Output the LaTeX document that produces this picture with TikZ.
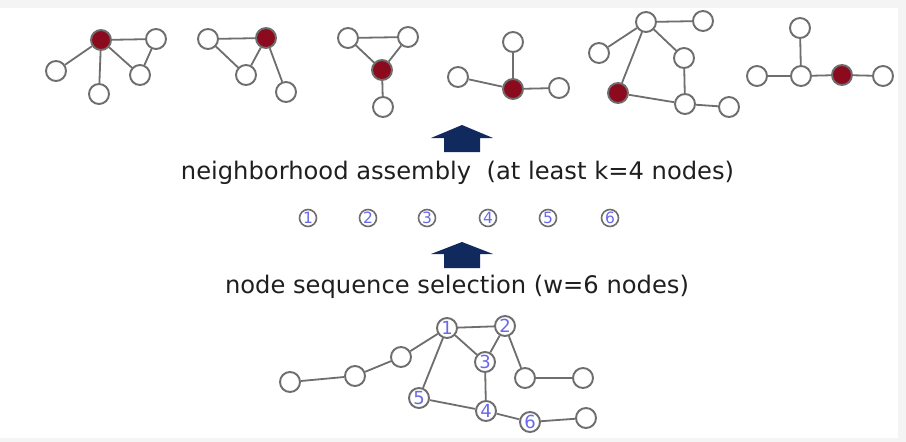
\documentclass[tikz,border=0pt]{standalone}
\usepackage{fontspec}
\setmainfont{DejaVu Sans}
\definecolor{nodered}{RGB}{140,10,30}
\definecolor{edgegray}{RGB}{110,110,110}
\definecolor{numblue}{RGB}{105,105,235}
\definecolor{arrownavy}{RGB}{16,42,94}
\definecolor{framegray}{RGB}{244,244,244}
\tikzset{
  vertex/.style={circle, draw=edgegray, fill=white, line width=1.9pt, minimum size=20pt, inner sep=0pt},
  hub/.style={vertex, fill=nodered},
  numv/.style={vertex, text=numblue, font=\fontsize{18}{18}\selectfont},
  seq/.style={circle, draw=edgegray, line width=1.6pt, minimum size=17pt, inner sep=0pt, text=numblue, font=\fontsize{15.5}{15.5}\selectfont},
  link/.style={draw=edgegray, line width=1.8pt},
  caption/.style={font=\fontsize{24.2}{28}\selectfont, text=black!88},
}
\begin{document}
\begin{tikzpicture}[x=1pt, y=-1pt]
                \useasboundingbox (0,0) rectangle (906,442);
                \fill[framegray] (0,0) rectangle (906,442);
                \fill[white] (0,8) rectangle (898,438);
                \node[hub] (g1c) at (101,40) {};
                \node[vertex] (g1r) at (156,39) {};
                \node[vertex] (g1l) at (56,71) {};
                \node[vertex] (g1b) at (99,94) {};
                \node[vertex] (g1m) at (140,75) {};
                \draw[link] (g1c) -- (g1r);
                \draw[link] (g1c) -- (g1l);
                \draw[link] (g1c) -- (g1b);
                \draw[link] (g1c) -- (g1m);
                \draw[link] (g1r) -- (g1m);
                \node[vertex] (g2l) at (208,39) {};
                \node[hub] (g2c) at (266,38) {};
                \node[vertex] (g2m) at (246,75) {};
                \node[vertex] (g2b) at (286,92) {};
                \draw[link] (g2l) -- (g2c);
                \draw[link] (g2l) -- (g2m);
                \draw[link] (g2c) -- (g2m);
                \draw[link] (g2c) -- (g2b);
                \node[vertex] (g3l) at (348,38) {};
                \node[vertex] (g3r) at (408,37) {};
                \node[hub] (g3c) at (382,70) {};
                \node[vertex] (g3b) at (383,107) {};
                \draw[link] (g3l) -- (g3r);
                \draw[link] (g3l) -- (g3c);
                \draw[link] (g3r) -- (g3c);
                \draw[link] (g3c) -- (g3b);
                \node[vertex] (g4t) at (513,42) {};
                \node[vertex] (g4l) at (458,77) {};
                \node[hub] (g4c) at (513,89) {};
                \node[vertex] (g4r) at (559,88) {};
                \draw[link] (g4t) -- (g4c);
                \draw[link] (g4l) -- (g4c);
                \draw[link] (g4c) -- (g4r);
                \node[vertex] (g5t) at (646,22) {};
                \node[vertex] (g5tr) at (703,21) {};
                \node[vertex] (g5l) at (599,53) {};
                \node[vertex] (g5m) at (684,58) {};
                \node[hub] (g5c) at (618,93) {};
                \node[vertex] (g5b) at (685,104) {};
                \node[vertex] (g5br) at (729,107) {};
                \draw[link] (g5t) -- (g5tr);
                \draw[link] (g5t) -- (g5l);
                \draw[link] (g5t) -- (g5c);
                \draw[link] (g5t) -- (g5m);
                \draw[link] (g5m) -- (g5b);
                \draw[link] (g5c) -- (g5b);
                \draw[link] (g5b) -- (g5br);
                \node[vertex] (g6t) at (800,28) {};
                \node[vertex] (g6m) at (801,76) {};
                \node[vertex] (g6l) at (757,76) {};
                \node[hub] (g6c) at (842,75) {};
                \node[vertex] (g6r) at (883,76) {};
                \draw[link] (g6t) -- (g6m);
                \draw[link] (g6l) -- (g6m);
                \draw[link] (g6m) -- (g6c);
                \draw[link] (g6c) -- (g6r);
                \fill[arrownavy] (462,125) -- (493,138) -- (480,138) -- (480,152) -- (444,152) -- (444,138) -- (431,138) -- cycle;
                \node[caption] (assembly) at (457.5,173) {neighborhood assembly\ \ (at least k=4 nodes)};
                \node[seq] (s1) at (308,218) {1};
                \node[seq] (s2) at (368,218) {2};
                \node[seq] (s3) at (427,218) {3};
                \node[seq] (s4) at (488,218) {4};
                \node[seq] (s5) at (548,218) {5};
                \node[seq] (s6) at (610,218) {6};
                \fill[arrownavy] (462,242) -- (493,254) -- (480,254) -- (480,268) -- (444,268) -- (444,254) -- (431,254) -- cycle;
                \node[caption] (selection) at (457,287) {node sequence selection (w=6 nodes)};
                \node[numv] (n1) at (447,328) {1};
                \node[numv] (n2) at (505,326) {2};
                \node[numv] (n3) at (485,362) {3};
                \node[numv] (n4) at (486,411) {4};
                \node[numv] (n5) at (419,398) {5};
                \node[numv] (n6) at (530,422) {6};
                \node[vertex] (pa) at (401,357) {};
                \node[vertex] (pb) at (355,376) {};
                \node[vertex] (pc) at (290,382) {};
                \node[vertex] (pd) at (525,378) {};
                \node[vertex] (pe) at (583,378) {};
                \node[vertex] (pf) at (586,418) {};
                \draw[link] (pc) -- (pb);
                \draw[link] (pb) -- (pa);
                \draw[link] (pa) -- (n1);
                \draw[link] (n1) -- (n2);
                \draw[link] (n1) -- (n3);
                \draw[link] (n1) -- (n5);
                \draw[link] (n2) -- (n3);
                \draw[link] (n2) -- (pd);
                \draw[link] (pd) -- (pe);
                \draw[link] (n3) -- (n4);
                \draw[link] (n5) -- (n4);
                \draw[link] (n4) -- (n6);
                \draw[link] (n6) -- (pf);
            \end{tikzpicture}
\end{document}
